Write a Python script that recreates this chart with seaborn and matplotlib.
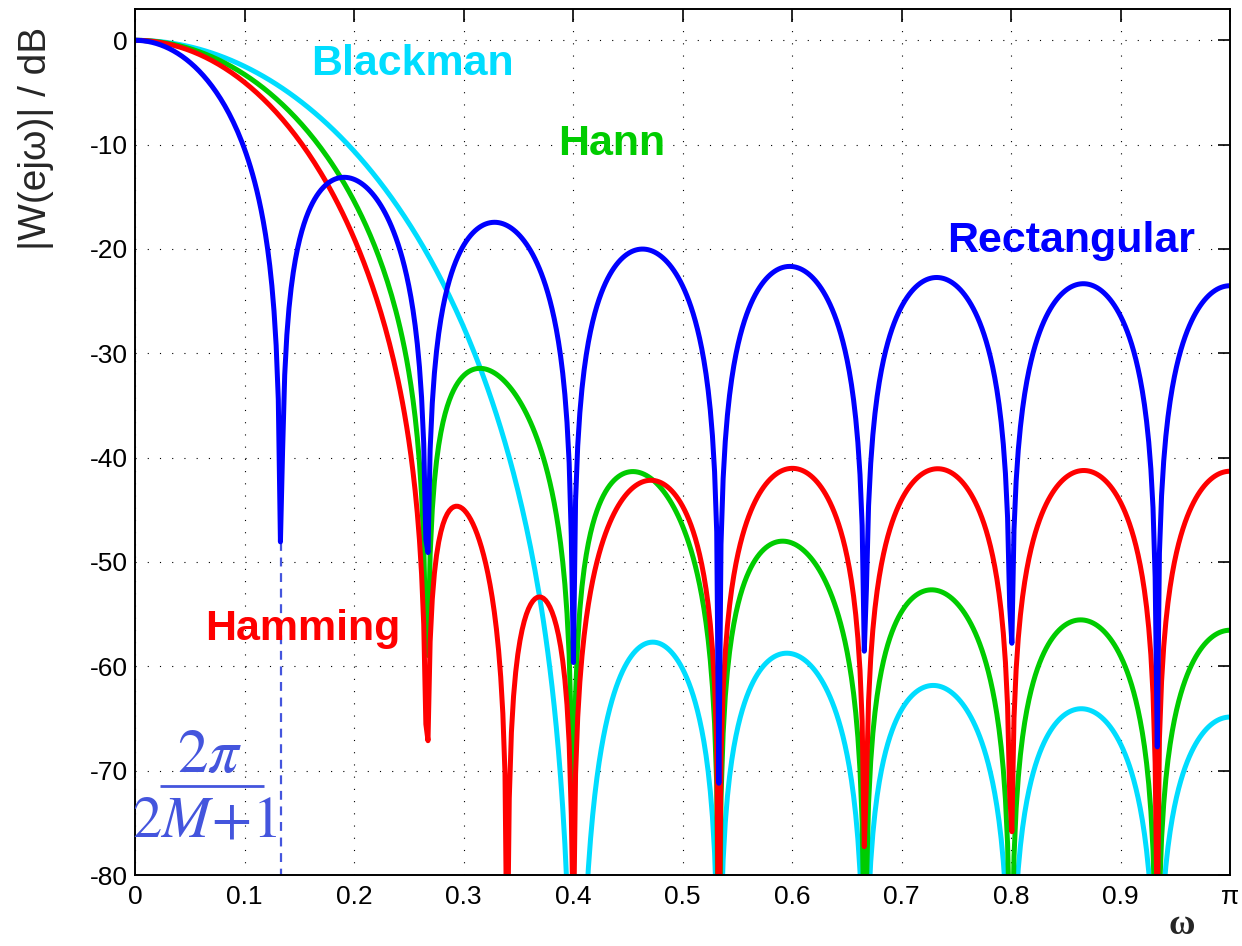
import numpy as np
import pandas as pd
import matplotlib
matplotlib.use("Agg")
import matplotlib.pyplot as plt
import seaborn as sns

# ---- data: window samples, n = -7..7 (M = 7, length 2M+1 = 15) ----
rect_window = [1.0] * 15
hann_half = [0.010926, 0.095492, 0.25, 0.447736, 0.654508, 0.834565, 0.956773, 1.0]
hamming_half = [0.090052, 0.167852, 0.31, 0.491917, 0.682148, 0.847800, 0.960231, 1.0]
blackman_half = [0.004010, 0.040213, 0.13, 0.289484, 0.509787, 0.746203, 0.930303, 1.0]
hann_window = hann_half + hann_half[-2::-1]
hamming_window = hamming_half + hamming_half[-2::-1]
blackman_window = blackman_half + blackman_half[-2::-1]

window_names = ["Blackman", "Hann", "Hamming", "Rectangular"]
window_samples = [blackman_window, hann_window, hamming_window, rect_window]
colors = {"Blackman": "#00DDFF", "Hann": "#00CC00", "Hamming": "#FF0000", "Rectangular": "#0000FF"}

x_ticks = [0, 0.1, 0.2, 0.3, 0.4, 0.5, 0.6, 0.7, 0.8, 0.9, 1.0]
x_tick_labels = ["0", "0.1", "0.2", "0.3", "0.4", "0.5", "0.6", "0.7", "0.8", "0.9", "π"]
y_ticks = [0, -10, -20, -30, -40, -50, -60, -70, -80]
y_tick_labels = ["0", "-10", "-20", "-30", "-40", "-50", "-60", "-70", "-80"]

M = 7
nfft = 1024

# ---- magnitude responses (freqz-like grid) ----
frames = []
for name, w in zip(window_names, window_samples):
    W = np.abs(np.fft.rfft(np.asarray(w), nfft))
    db = 20 * np.log10(np.maximum(W / W[0], 1e-12))
    omega = np.arange(len(W)) / (nfft / 2)
    frames.append(pd.DataFrame({"omega": omega, "dB": db, "window": name}))
df = pd.concat(frames, ignore_index=True)

sns.set_style("white")
plt.rcParams["font.family"] = ["Liberation Sans", "DejaVu Sans"]
plt.rcParams["mathtext.fontset"] = "stix"

fig = plt.figure(figsize=(12.42, 9.46), dpi=100)
ax = fig.add_axes([135 / 1242, 71 / 946, 1095 / 1242, 866 / 946])

sns.lineplot(data=df, x="omega", y="dB", hue="window", hue_order=window_names,
             palette=colors, estimator=None, sort=False, linewidth=3.6,
             legend=False, ax=ax)

ax.set_xlim(0, 1)
ax.set_ylim(-80, 3)
ax.set_xticks(x_ticks)
ax.set_xticklabels(x_tick_labels)
ax.set_yticks(y_ticks)
ax.set_yticklabels(y_tick_labels)
ax.set_xlabel("")
ax.set_ylabel("")
ax.tick_params(direction="in", length=9, width=1.2, top=True, right=True,
               labelsize=19, colors="black")
ax.tick_params(axis="x", pad=7)
ax.tick_params(axis="y", pad=5)
for sp in ax.spines.values():
    sp.set_visible(True)
    sp.set_color("black")
    sp.set_linewidth(1.4)
ax.grid(True, color="black", linestyle=(0, (1, 10)), linewidth=0.8)
ax.set_axisbelow(True)

# dashed marker at the first null of the rectangular window
null_x = 2.0 / (2 * M + 1)
rect_df = df[df["window"] == "Rectangular"]
idx = (rect_df["omega"] - null_x).abs().idxmin()
null_y = rect_df.loc[idx, "dB"]
frac_color = "#4455DD"
ax.plot([null_x, null_x], [null_y, -80], color=frac_color, linestyle=(0, (4, 3)),
        linewidth=1.6, zorder=1)

# labels
lab = dict(fontsize=31, fontweight="bold", ha="center", va="center")
ax.text(0.253, -2.3, "Blackman", color=colors["Blackman"], **lab)
ax.text(0.435, -9.9, "Hann", color=colors["Hann"], **lab)
ax.text(0.855, -19.2, "Rectangular", color=colors["Rectangular"], **lab)
ax.text(0.153, -56.4, "Hamming", color=colors["Hamming"], **lab)

# fraction 2*pi / (2M+1)
ax.text(0.0685, -68.6, r"$2\pi$", color=frac_color, fontsize=44,
        ha="center", va="center")
ax.plot([0.0228, 0.1178], [-71.5, -71.5], color=frac_color, linewidth=2.0,
        solid_capstyle="butt", zorder=1)
ax.text(0.064, -74.9, r"$2M\!+\!1$", color=frac_color, fontsize=42,
        ha="center", va="center")

fig.text(36 / 1242, 1 - 138 / 946, "|W(ejω)| / dB", rotation=90, fontsize=28,
         ha="center", va="center")
fig.text(1182 / 1242, 1 - 925 / 946, "ω", family=["Liberation Serif", "DejaVu Serif"],
         fontsize=26, fontweight="bold", ha="center", va="center")

fig.savefig("out.png", dpi=100, facecolor="white")
